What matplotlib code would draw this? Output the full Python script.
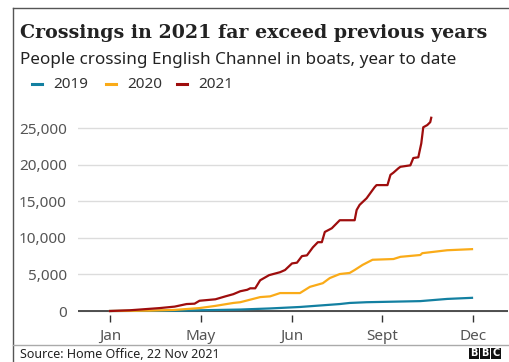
import numpy as np
import matplotlib
matplotlib.use('Agg')
import matplotlib.pyplot as plt
from matplotlib.lines import Line2D
from matplotlib.patches import Rectangle
from matplotlib.ticker import FuncFormatter

# day of year vs cumulative crossings
days_2021 = [0, 20, 50, 65, 77, 85, 90, 106, 116, 124, 131, 138, 141, 146, 151, 160, 171, 176,
             183, 188, 193, 198, 204, 209, 213, 216, 223, 231, 246, 248, 251, 258, 266, 268,
             279, 282, 285, 290, 292, 302, 305, 310, 313, 315, 319, 322, 323]
vals_2021 = [0, 100, 400, 600, 950, 1000, 1400, 1600, 2000, 2300, 2700, 2900, 3100, 3100, 4200,
             4900, 5300, 5600, 6500, 6600, 7500, 7600, 8700, 9400, 9400, 10800, 11300, 12400,
             12400, 13800, 14500, 15400, 16900, 17200, 17200, 18600, 18900, 19500, 19700,
             19900, 20900, 21000, 22900, 25100, 25400, 25800, 26400]

days_2020 = [0, 40, 65, 90, 106, 124, 131, 151, 161, 171, 191, 201, 214, 221, 231, 241, 246,
             254, 264, 285, 292, 312, 314, 339, 364]
vals_2020 = [0, 50, 150, 400, 700, 1100, 1200, 1900, 2000, 2450, 2450, 3300, 3800, 4500, 5050,
             5200, 5600, 6300, 7000, 7100, 7400, 7650, 7900, 8300, 8450]

days_2019 = [0, 70, 111, 131, 161, 191, 231, 241, 258, 312, 339, 364]
vals_2019 = [0, 50, 150, 200, 350, 550, 950, 1100, 1200, 1350, 1650, 1800]

tick_days = [0, 91.25, 182.5, 273.75, 365]
tick_labels = ['Jan', 'May', 'Jun', 'Sept', 'Dec']
y_ticks = [0, 5000, 10000, 15000, 20000, 25000]

blue = '#1380A1'
yellow = '#FAAB18'
red = '#9E0D0D'
sans = 'Noto Sans'

W, H = 510, 362
fig = plt.figure(figsize=(W / 100, H / 100), dpi=100)
fig.patch.set_facecolor('white')

ax = fig.add_axes([78 / W, 1 - 315 / H, (508 - 78) / W, (315 - 110) / H])
ax.plot(days_2019, vals_2019, color=blue, lw=1.6, solid_joinstyle='round', zorder=3)
ax.plot(days_2020, vals_2020, color=yellow, lw=1.6, solid_joinstyle='round', zorder=3)
ax.plot(days_2021, vals_2021, color=red, lw=1.6, solid_joinstyle='round', zorder=4)

ax.set_xlim(-32.2, 400.2)
ax.set_ylim(-546, 27459)
ax.set_yticks(y_ticks)
ax.yaxis.set_major_formatter(FuncFormatter(lambda v, p: f'{int(v):,}'))
ax.set_xticks(tick_days)
ax.set_xticklabels(tick_labels)

ax.grid(axis='y', color='#dcdcdc', lw=1)
ax.axhline(0, color='#333333', lw=1.2, zorder=2)
for s in ax.spines.values():
    s.set_visible(False)
ax.tick_params(axis='y', length=0, pad=8, labelsize=11, labelcolor='#555555')
ax.tick_params(axis='x', length=5, width=1, color='#333333', direction='out', pad=5,
               labelsize=11, labelcolor='#555555')
for lab in ax.get_xticklabels() + ax.get_yticklabels():
    lab.set_family(sans)

# titles
fig.text(20 / W, 1 - 33 / H, 'Crossings in 2021 far exceed previous years', family='DejaVu Serif',
         weight='bold', fontsize=13.7, color='#222222', va='center', ha='left')
fig.text(20 / W, 1 - 60 / H, 'People crossing English Channel in boats, year to date', family=sans,
         fontsize=12.3, color='#222222', va='center', ha='left')

# legend
for x0, col, lab in [(32, blue, '2019'), (106, yellow, '2020'), (177, red, '2021')]:
    fig.add_artist(Line2D([x0 / W, (x0 + 10) / W], [1 - 84 / H, 1 - 84 / H], color=col, lw=2.2))
    fig.text((x0 + 21) / W, 1 - 84 / H, lab, family=sans, fontsize=11, color='#333333',
             va='center', ha='left')

# frame, footer
fig.add_artist(Line2D([13 / W, 13 / W], [0, 1 - 8 / H], color='#555555', lw=1))
fig.add_artist(Line2D([13 / W, 1], [1 - 8 / H, 1 - 8 / H], color='#555555', lw=1))
fig.add_artist(Line2D([13 / W, 1], [1 - 345 / H, 1 - 345 / H], color='#aaaaaa', lw=1))
fig.text(20 / W, 1 - 354 / H, 'Source: Home Office, 22 Nov 2021', family=sans, fontsize=9,
         color='#222222', va='center', ha='left')
for i, ch in enumerate('BBC'):
    x0 = 469 + i * 11
    fig.add_artist(Rectangle((x0 / W, 1 - 359 / H), 10 / W, 11 / H, transform=fig.transFigure,
                             facecolor='#111111', edgecolor='none'))
    fig.text((x0 + 5) / W, 1 - 353.5 / H, ch, family='DejaVu Sans', weight='bold', fontsize=7,
             color='white', va='center', ha='center')

fig.savefig('out.png', dpi=100)
